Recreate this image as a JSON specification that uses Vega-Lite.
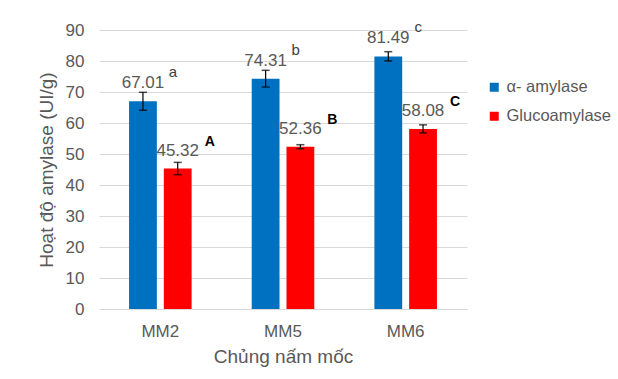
{
  "$schema": "https://vega.github.io/schema/vega-lite/v6.json",
  "autosize": "none",
  "width": 368,
  "height": 279,
  "padding": {"left": 99, "top": 30, "right": 151, "bottom": 70},
  "background": "white",
  "config": {
    "font": "Liberation Sans",
    "view": {"stroke": null},
    "axis": {"labelColor": "#595959", "titleColor": "#595959", "labelFont": "Liberation Sans", "titleFont": "Liberation Sans", "labelFontSize": 17, "titleFontSize": 19, "titleFontWeight": "normal", "ticks": false},
    "axisY": {"tickCount": 10, "labelOverlap": false, "domain": false, "gridColor": "#d9d9d9", "labelPadding": 15, "titlePadding": 9}
  },
  "data": {
    "values": [
      {"strain": "MM2", "enzyme": "α- amylase", "value": 67.01, "lo": 64.1, "hi": 69.9, "letter": "a"},
      {"strain": "MM2", "enzyme": "Glucoamylase", "value": 45.32, "lo": 43.3, "hi": 47.3, "letter": "A"},
      {"strain": "MM5", "enzyme": "α- amylase", "value": 74.31, "lo": 71.6, "hi": 77.0, "letter": "b"},
      {"strain": "MM5", "enzyme": "Glucoamylase", "value": 52.36, "lo": 51.7, "hi": 53.0, "letter": "B"},
      {"strain": "MM6", "enzyme": "α- amylase", "value": 81.49, "lo": 80.0, "hi": 83.0, "letter": "c"},
      {"strain": "MM6", "enzyme": "Glucoamylase", "value": 58.08, "lo": 56.8, "hi": 59.4, "letter": "C"}
    ]
  },
  "encoding": {
    "x": {
      "field": "strain", "type": "nominal",
      "scale": {"paddingInner": 0.49, "paddingOuter": 0.245},
      "axis": {"title": "Chủng nấm mốc", "labelAngle": 0, "domainColor": "#d9d9d9", "labelPadding": 14, "titlePadding": 8}
    },
    "xOffset": {"field": "enzyme", "type": "nominal", "sort": ["α- amylase", "Glucoamylase"], "scale": {"paddingInner": 0.2, "paddingOuter": 0}}
  },
  "layer": [
    {
      "mark": {"type": "bar"},
      "encoding": {
        "y": {
          "field": "value", "type": "quantitative",
          "scale": {"domain": [0, 90]},
          "axis": {"title": "Hoạt độ amylase (UI/g)"}
        },
        "color": {
          "field": "enzyme", "type": "nominal",
          "sort": ["α- amylase", "Glucoamylase"],
          "scale": {"domain": ["α- amylase", "Glucoamylase"], "range": ["#0070C0", "#FF0000"]},
          "legend": {"title": null, "orient": "none", "legendX": 387, "legendY": 49, "symbolType": "square", "symbolSize": 81, "symbolStrokeWidth": 0, "labelFontSize": 16.5, "labelColor": "#595959", "labelOffset": 4, "rowPadding": 12, "labelLimit": 200}
        }
      }
    },
    {
      "mark": {"type": "rule", "color": "black", "strokeWidth": 1.2},
      "encoding": {"y": {"field": "lo", "type": "quantitative"}, "y2": {"field": "hi"}}
    },
    {
      "mark": {"type": "tick", "color": "black", "size": 8, "thickness": 1.5},
      "encoding": {"y": {"field": "lo", "type": "quantitative"}}
    },
    {
      "mark": {"type": "tick", "color": "black", "size": 8, "thickness": 1.5},
      "encoding": {"y": {"field": "hi", "type": "quantitative"}}
    },
    {
      "mark": {"type": "text", "baseline": "alphabetic", "dy": -13, "fontSize": 17, "color": "#595959"},
      "encoding": {"y": {"field": "value", "type": "quantitative"}, "text": {"field": "value", "type": "quantitative", "format": ".2f"}}
    },
    {
      "transform": [{"filter": "datum.enzyme === 'α- amylase'"}],
      "mark": {"type": "text", "baseline": "alphabetic", "dy": -24, "dx": 30, "fontSize": 15, "color": "#404040"},
      "encoding": {"y": {"field": "value", "type": "quantitative"}, "text": {"field": "letter"}}
    },
    {
      "transform": [{"filter": "datum.enzyme === 'Glucoamylase'"}],
      "mark": {"type": "text", "baseline": "alphabetic", "dy": -23, "dx": 32, "fontSize": 14, "fontWeight": "bold", "color": "black"},
      "encoding": {"y": {"field": "value", "type": "quantitative"}, "text": {"field": "letter"}}
    }
  ]
}
